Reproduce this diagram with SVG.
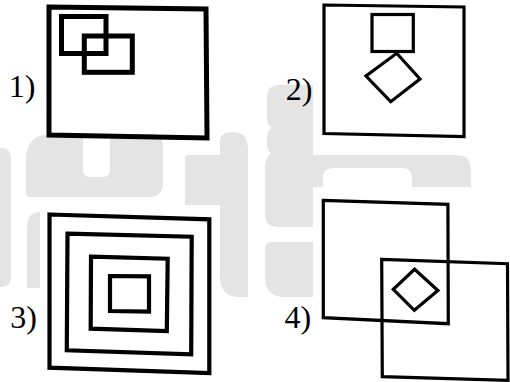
<svg xmlns="http://www.w3.org/2000/svg" width="510" height="382" viewBox="0 0 510 382">
<style>
.wm{fill:#e4e4e4;stroke:none}
.sq{fill:none;stroke:#000;stroke-linejoin:miter}
.t1{stroke-width:5}
.t2{stroke-width:3.2}
.t3{stroke-width:4.2}
.t4{stroke-width:3.2}
.lbl{font-family:"Liberation Serif","Times New Roman",serif;font-size:32px;fill:#000}
</style>
<rect width="510" height="382" fill="#fff"/>
<g id="watermark">
<path class="wm" d="M0,148 L2,148 Q11,148 11,160 L11,276 Q11,287 2,287 L0,287 Z"/>
<path class="wm" d="M26,160 Q26,134 52,134 L83,134 L83,170 Q83,177 90,177 L103,177 Q110,177 110,170 L110,134 L150,134 Q163,134 163,147 L163,183 Q163,197 149,197 L30,197 Q26,197 26,193 Z"/>
<path class="wm" d="M27,288 L27,228 Q27,212 40,212 L40,288 Z"/>
<path class="wm" d="M185,158 Q185,155 188,155 L220,155 L220,142 Q220,132 232,132 Q248,132 248,148 L248,297 L240,297 Q220,297 220,277 L220,205 L185,205 Z"/>
<path class="wm" d="M313,85 L280,85 Q267,85 267,98 L267,118 Q267,124 272,128 Q267,131 267,137 L267,145 Q267,150 271,153 Q265,158 265,168 L265,214 Q265,227 278,227 L313,227 L313,187 L323,187 L323,178 Q323,168 333,168 L402,168 Q412,168 412,178 L412,187 L471,187 L471,170 Q471,155 456,155 L313,155 Z"/>
<path class="wm" d="M313,242 L272,242 Q265,242 265,249 L265,277 Q265,297 285,297 L313,297 Z"/>
</g>
<g id="fig1">
<polygon class="sq t1" points="49,7 206,9 207,138 49,135"/>
<rect class="sq t1" x="61.5" y="16.5" width="44.5" height="37"/>
<rect class="sq t1" x="84.3" y="36" width="48" height="36.3"/>
<text class="lbl" x="8.8" y="96.7">1)</text>
</g>
<g id="fig2">
<polygon class="sq t2" points="324,5 464,7 464,136.5 324,133.5"/>
<rect class="sq t2" x="372" y="14.5" width="41.3" height="37"/>
<polygon class="sq t2" points="396.7,53.3 420,79 390.7,101.7 366,76"/>
<text class="lbl" x="285.7" y="100">2)</text>
</g>
<g id="fig3">
<polygon class="sq t3" points="49.5,214.5 209.3,219.3 209.3,373 49.5,367.7"/>
<polygon class="sq t3" points="67.5,233.7 191.7,236.7 191.2,354.3 66.8,350.3"/>
<polygon class="sq t3" points="91,256.7 167.7,258.7 166.8,331 90.7,328.7"/>
<polygon class="sq t3" points="110,276 149,276.3 149,311.7 110,311"/>
<text class="lbl" x="10.3" y="328">3)</text>
</g>
<g id="fig4">
<polygon class="sq t4" points="323.3,200.3 447.9,204.3 448.3,323.7 323.3,317.7"/>
<polygon class="sq t4" points="381.7,259.3 507.5,263.7 508,380.3 382.3,376.7"/>
<polygon class="sq t4" points="414.6,269.3 437.9,290.5 414.3,310.3 393.3,289.3"/>
<text class="lbl" x="284.6" y="328.3">4)</text>
</g>
</svg>
